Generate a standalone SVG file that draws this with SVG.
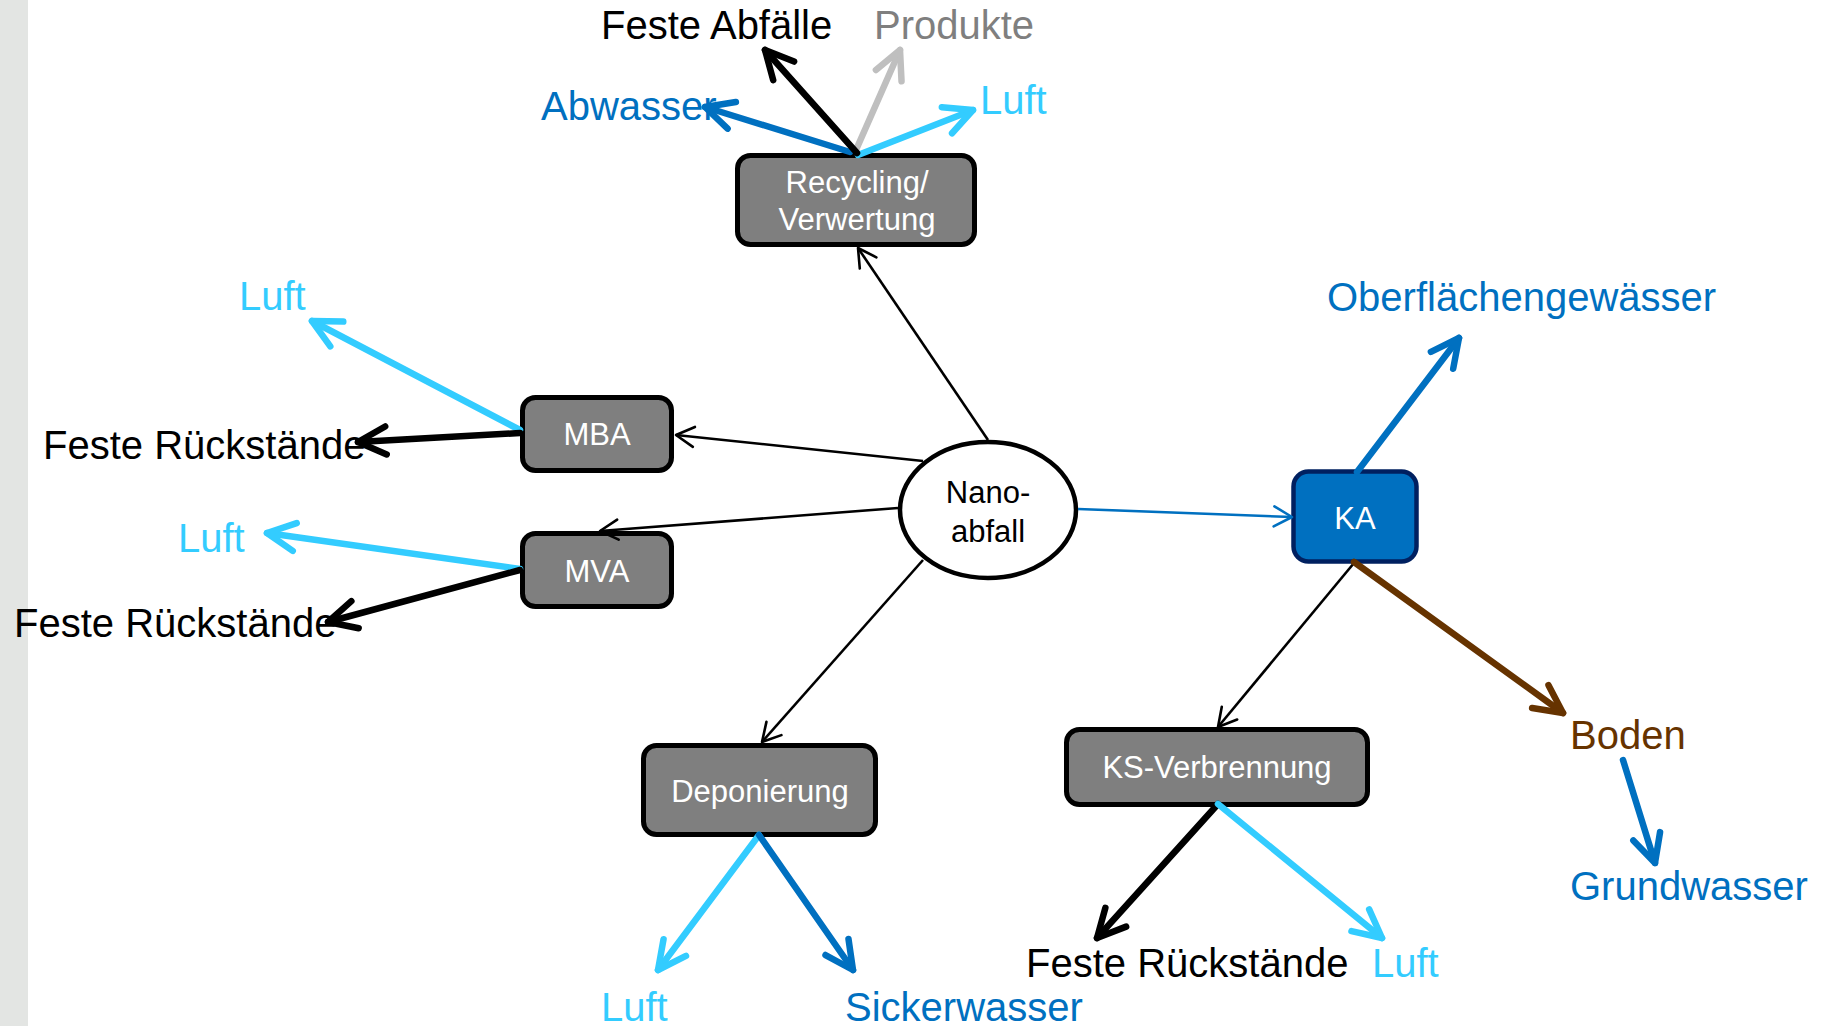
<svg xmlns="http://www.w3.org/2000/svg" width="1824" height="1026" viewBox="0 0 1824 1026">
<style>
.box{fill:#7F7F7F;stroke:#000;stroke-width:5}
.ntxt{font-family:"Liberation Sans",Arial,sans-serif;font-size:31px;fill:#fff;text-anchor:middle}
.lbl{font-family:"Liberation Sans",Arial,sans-serif;font-size:40px}
.thick{fill:none;stroke-width:6.5;stroke-linecap:round}
.thin{fill:none;stroke-width:2.6}
.k{stroke:#000}.db{stroke:#0070C0}.lb{stroke:#33CCFF}.gr{stroke:#BFBFBF}.br{stroke:#663300}
</style>
<defs>
<marker id="hk" markerUnits="userSpaceOnUse" orient="auto" refX="0" refY="0" markerWidth="40" markerHeight="40" viewBox="-35 -20 40 40" overflow="visible"><path d="M-28,-14 L0,0 L-28,14" fill="none" stroke="#000" stroke-width="6.5" stroke-linecap="round" stroke-linejoin="round"/></marker>
<marker id="hdb" markerUnits="userSpaceOnUse" orient="auto" refX="0" refY="0" markerWidth="40" markerHeight="40" viewBox="-35 -20 40 40" overflow="visible"><path d="M-28,-14 L0,0 L-28,14" fill="none" stroke="#0070C0" stroke-width="6.5" stroke-linecap="round" stroke-linejoin="round"/></marker>
<marker id="hlb" markerUnits="userSpaceOnUse" orient="auto" refX="0" refY="0" markerWidth="40" markerHeight="40" viewBox="-35 -20 40 40" overflow="visible"><path d="M-28,-14 L0,0 L-28,14" fill="none" stroke="#33CCFF" stroke-width="6.5" stroke-linecap="round" stroke-linejoin="round"/></marker>
<marker id="hgr" markerUnits="userSpaceOnUse" orient="auto" refX="0" refY="0" markerWidth="40" markerHeight="40" viewBox="-35 -20 40 40" overflow="visible"><path d="M-28,-14 L0,0 L-28,14" fill="none" stroke="#BFBFBF" stroke-width="6.5" stroke-linecap="round" stroke-linejoin="round"/></marker>
<marker id="hbr" markerUnits="userSpaceOnUse" orient="auto" refX="0" refY="0" markerWidth="40" markerHeight="40" viewBox="-35 -20 40 40" overflow="visible"><path d="M-28,-14 L0,0 L-28,14" fill="none" stroke="#663300" stroke-width="6.5" stroke-linecap="round" stroke-linejoin="round"/></marker>
<marker id="tk" markerUnits="userSpaceOnUse" orient="auto" refX="0" refY="0" markerWidth="30" markerHeight="30" viewBox="-25 -15 30 30" overflow="visible"><path d="M-18,-10 L0,0 L-18,10" fill="none" stroke="#000" stroke-width="2.6" stroke-linecap="round" stroke-linejoin="round"/></marker>
<marker id="tdb" markerUnits="userSpaceOnUse" orient="auto" refX="0" refY="0" markerWidth="30" markerHeight="30" viewBox="-25 -15 30 30" overflow="visible"><path d="M-18,-10 L0,0 L-18,10" fill="none" stroke="#0070C0" stroke-width="2.6" stroke-linecap="round" stroke-linejoin="round"/></marker>
</defs>
<rect x="0" y="0" width="1824" height="1026" fill="#fff"/>
<rect x="0" y="0" width="28" height="1026" fill="#E3E5E3"/>

<g id="node-nanoabfall">
<ellipse cx="988" cy="510" rx="88" ry="68" fill="#fff" stroke="#000" stroke-width="4.5"/>
<text class="ntxt" x="988" y="503" style="fill:#000">Nano-</text>
<text class="ntxt" x="988" y="542" style="fill:#000">abfall</text>
</g>
<g id="node-recycling">
<rect class="box" x="737.5" y="155.5" width="237" height="89" rx="13"/>
<text class="ntxt" x="857" y="193">Recycling/</text>
<text class="ntxt" x="857" y="230">Verwertung</text>
</g>
<g id="node-mba">
<rect class="box" x="522.5" y="397.5" width="149" height="73" rx="13"/>
<text class="ntxt" x="597" y="445">MBA</text>
</g>
<g id="node-mva">
<rect class="box" x="522.5" y="533.5" width="149" height="73" rx="13"/>
<text class="ntxt" x="597" y="582">MVA</text>
</g>
<g id="node-ka">
<rect x="1293.5" y="471.5" width="123" height="90" rx="15" fill="#0070C0" stroke="#002060" stroke-width="4.5"/>
<text class="ntxt" x="1355" y="529">KA</text>
</g>
<g id="node-deponierung">
<rect class="box" x="643.5" y="745.5" width="232" height="89" rx="13"/>
<text class="ntxt" x="760" y="802">Deponierung</text>
</g>
<g id="node-ks">
<rect class="box" x="1066.5" y="729.5" width="301" height="75" rx="13"/>
<text class="ntxt" x="1217" y="778">KS-Verbrennung</text>
</g>

<g id="labels">
<text class="lbl" x="601" y="39" fill="#000">Feste Abfälle</text>
<text class="lbl" x="874" y="39" fill="#7F7F7F">Produkte</text>
<text class="lbl" x="541" y="120" fill="#0070C0">Abwasser</text>
<text class="lbl" x="980" y="114" fill="#33CCFF">Luft</text>
<text class="lbl" x="239" y="310" fill="#33CCFF">Luft</text>
<text class="lbl" x="43" y="459" fill="#000">Feste Rückstände</text>
<text class="lbl" x="178" y="552" fill="#33CCFF">Luft</text>
<text class="lbl" x="14" y="637" fill="#000">Feste Rückstände</text>
<text class="lbl" x="1327" y="311" fill="#0070C0">Oberflächengewässer</text>
<text class="lbl" x="1570" y="749" fill="#663300">Boden</text>
<text class="lbl" x="1570" y="900" fill="#0070C0">Grundwasser</text>
<text class="lbl" x="601" y="1021" fill="#33CCFF">Luft</text>
<text class="lbl" x="845" y="1021" fill="#0070C0">Sickerwasser</text>
<text class="lbl" x="1026" y="977" fill="#000">Feste Rückstände</text>
<text class="lbl" x="1372" y="977" fill="#33CCFF">Luft</text>
</g>

<g id="connectors">
<line class="thin k" x1="988" y1="440" x2="858" y2="248" marker-end="url(#tk)"/>
<line class="thin k" x1="923" y1="461" x2="676" y2="435" marker-end="url(#tk)"/>
<line class="thin k" x1="898" y1="508" x2="600" y2="531" marker-end="url(#tk)"/>
<line class="thin k" x1="923" y1="560" x2="762" y2="742" marker-end="url(#tk)"/>
<line class="thin db" x1="1078" y1="509" x2="1292" y2="517" stroke-width="3" marker-end="url(#tdb)"/>
<line class="thin k" x1="1354" y1="563" x2="1218" y2="727" marker-end="url(#tk)"/>

<line class="thick db" x1="850" y1="152" x2="705" y2="107" marker-end="url(#hdb)"/>
<line class="thick gr" x1="856" y1="150" x2="900" y2="50" marker-end="url(#hgr)"/>
<line class="thick lb" x1="858" y1="155" x2="973" y2="110" marker-end="url(#hlb)"/>
<line class="thick k" x1="857" y1="153" x2="765" y2="50" marker-end="url(#hk)"/>

<line class="thick lb" x1="520" y1="430" x2="312" y2="321" marker-end="url(#hlb)"/>
<line class="thick k" x1="520" y1="433" x2="358" y2="442" marker-end="url(#hk)"/>
<line class="thick lb" x1="520" y1="569" x2="267" y2="533" marker-end="url(#hlb)"/>
<line class="thick k" x1="520" y1="570" x2="328" y2="622" marker-end="url(#hk)"/>

<line class="thick db" x1="1357" y1="472" x2="1459" y2="338" marker-end="url(#hdb)"/>
<line class="thick br" x1="1354" y1="562" x2="1563" y2="713" marker-end="url(#hbr)"/>
<line class="thick db" x1="1623" y1="760" x2="1655" y2="863" marker-end="url(#hdb)"/>

<line class="thick lb" x1="759" y1="835" x2="658" y2="970" marker-end="url(#hlb)"/>
<line class="thick db" x1="759" y1="835" x2="853" y2="970" marker-end="url(#hdb)"/>
<line class="thick k" x1="1218" y1="804" x2="1097" y2="938" marker-end="url(#hk)"/>
<line class="thick lb" x1="1218" y1="804" x2="1382" y2="938" marker-end="url(#hlb)"/>
</g>
</svg>
